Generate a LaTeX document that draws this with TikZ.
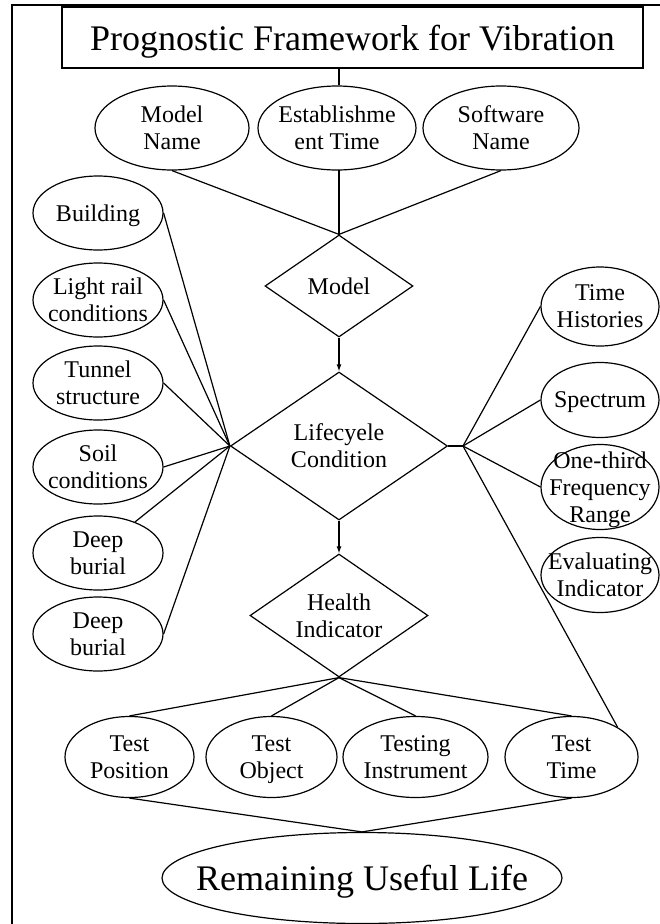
\documentclass[tikz,border=0pt]{standalone}
\usepackage{fontspec}
\setmainfont{Liberation Serif}
\usetikzlibrary{shapes.geometric,arrows.meta}
% hide descender depth so that labels sit centred on their caps
\newcommand\nodesc[1]{\raisebox{0pt}[\height][0pt]{#1}}
\begin{document}
\begin{tikzpicture}[x=1pt,y=-1pt,
  attr/.style={draw,ellipse,line width=1.2pt,inner sep=-40pt,align=center,
    font=\fontsize{24}{27}\selectfont},
  sideattr/.style={attr,minimum width=130pt,minimum height=74pt},
  rightattr/.style={attr,minimum width=118pt},
  lowattr/.style={attr,minimum height=81pt},
  toprow/.style={attr,minimum height=84pt},
  rel/.style={draw,diamond,line width=1.2pt,inner sep=0pt,align=center,
    font=\fontsize{24}{27}\selectfont},
  link/.style={line width=1.2pt},
  flow/.style={line width=1.2pt,-{Latex[length=7pt,width=5pt]}},
]
\useasboundingbox (0,0) rectangle (660,924);
% outer frame (left and top edges)
\draw[line width=2.5pt] (12,924) -- (12,5) -- (660,5);

% title
\node[draw,line width=1.3pt,minimum width=581pt,minimum height=61pt,inner sep=0pt,
  font=\fontsize{36}{40}\selectfont] (title) at (352.5,37.5) {\nodesc{Prognostic Framework for Vibration}};

% model attributes
\node[toprow,minimum width=154pt] (mname) at (172,128) {Model\\Name};
\node[toprow,minimum width=158pt] (etime) at (337,128) {Establishme\\ent Time};
\node[toprow,minimum width=156pt] (sname) at (501,128) {Software\\Name};

% relations
\node[rel,aspect=1.45,minimum width=148pt,minimum height=102pt] (model) at (339,286) {Model};
\node[rel,aspect=1.47,minimum width=217pt,minimum height=148pt] (life) at (339,446) {Lifecyele\\Condition};
\node[rel,aspect=1.44,minimum width=178pt,minimum height=123pt] (health) at (339,615.5) {Health\\Indicator};

% lifecycle conditions, left column
\node[sideattr] (bld)   at (98,213) {\nodesc{Building}};
\node[sideattr] (rail)  at (98,300) {Light rail\\conditions};
\node[sideattr] (tun)   at (98,383) {Tunnel\\structure};
\node[sideattr] (soil)  at (98,467) {Soil\\conditions};
\node[sideattr] (deepa) at (98,553) {Deep\\burial};
\node[sideattr] (deepb) at (98,634) {Deep\\burial};

% signal descriptors, right column
\node[rightattr,minimum height=79pt] (hist)  at (600,306.5) {Time\\Histories};
\node[rightattr,minimum height=75pt] (spec)  at (600,400) {\nodesc{Spectrum}};
\node[rightattr,minimum height=85pt] (third) at (600,487) {One-third\\Frequency\\\nodesc{Range}};
\node[rightattr,minimum height=75pt] (eval)  at (600,575) {Evaluating\\Indicator};

% test attributes
\node[lowattr,minimum width=129pt] (tpos)  at (129.5,757) {Test\\Position};
\node[lowattr,minimum width=131pt] (tobj)  at (271.5,757) {Test\\\nodesc{Object}};
\node[lowattr,minimum width=145pt] (tinst) at (415.5,757) {Testing\\Instrument};
\node[lowattr,minimum width=133pt] (ttime) at (571.5,757) {Test\\Time};

% outcome
\node[draw,ellipse,line width=1.2pt,inner sep=-40pt,minimum width=400pt,minimum height=91pt,
  font=\fontsize{36}{40}\selectfont] (rul) at (362,878) {\nodesc{Remaining Useful Life}};

\coordinate (rj) at (463,446);
\coordinate (etop) at (339,85);
\coordinate (ebot) at (339,170);

% connectors
\draw[link] (etop) -- (etop |- title.south);
\draw[link] (mname.south) -- (model.north);
\draw[link] (ebot) -- (model.north);
\draw[link] (sname.south) -- (model.north);
\draw[flow] (model.south) -- (life.north);
\draw[flow] (life.south) -- (health.north);

\foreach \n/\a in {bld/east,rail/east,tun/east,soil/east,deepa/40,deepb/east}
  \draw[link] (\n.\a) -- (life.west);

\draw[link] (life.east) -- (rj);
\draw[link] (rj) -- (hist.west);
\draw[link] (rj) -- (spec.west);
\draw[link] (rj) -- (third.west);
\draw[link] (rj) -- (ttime.33);

\foreach \n in {tpos,tobj,tinst,ttime}
  \draw[link] (health.south) -- (\n.north);

\draw[link] (tpos.south) -- (rul.north);
\draw[link] (ttime.south) -- (rul.north);
\end{tikzpicture}
\end{document}
